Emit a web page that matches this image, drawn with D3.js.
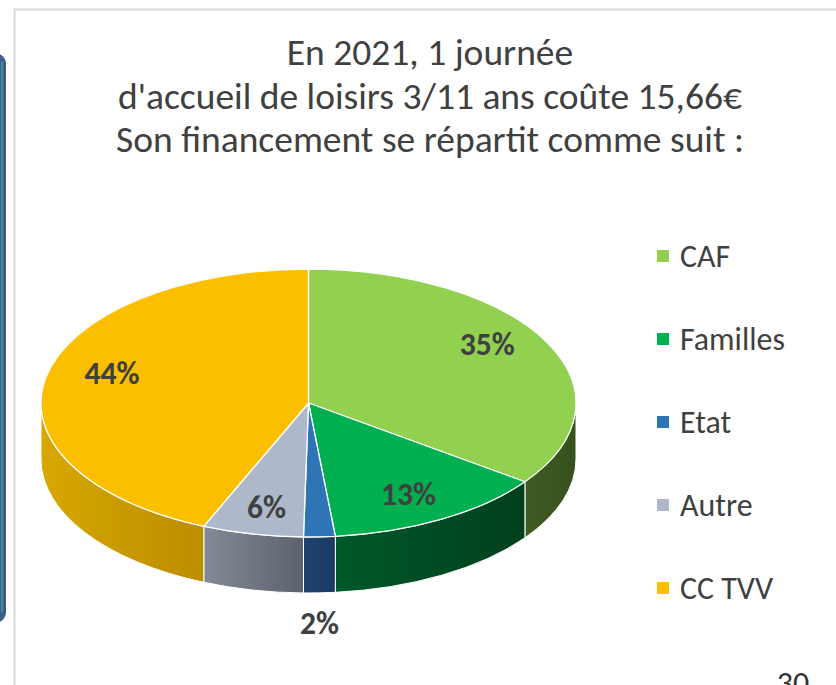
<!DOCTYPE html>
<html>
<head>
<meta charset="utf-8">
<script src="https://d3js.org/d3.v7.min.js"></script>
<style>
  body { margin: 0; background: #fff; }
  text { font-family: Carlito, Lato, "Open Sans", sans-serif; fill: #404040; }
</style>
</head>
<body>
<svg id="chart" width="836" height="685"></svg>
<script>
// data (share of one day's cost, %)
var categories = ["CAF", "Familles", "Etat", "Autre", "CC TVV"];
var shares = [35.0, 13.4, 1.9, 6.1, 43.6];
var labels = ["35%", "13%", "2%", "6%", "44%"];
var titleLines = ["En 2021, 1 journée",
                  "d'accueil de loisirs 3/11 ans coûte 15,66€",
                  "Son financement se répartit comme suit :"];

var topColors  = ["#92d050", "#00b050", "#2e75b6", "#adb9ca", "#fcbf00"];
var sideLight  = ["#3f5b22", "#00582a", "#1f4470", "#838a97", "#d8a700"];
var sideDark   = ["#37501d", "#003f1d", "#1a3a60", "#5b626d", "#bb8d00"];

var svg = d3.select("#chart");
var defs = svg.append("defs");

// slide decorations: blue bar on the left, chart frame
svg.append("rect")
    .attr("x", -20).attr("y", 53).attr("width", 26).attr("height", 570)
    .attr("rx", 11)
    .attr("fill", "#3b5e8a");
svg.append("line")
    .attr("x1", 2).attr("x2", 2).attr("y1", 62).attr("y2", 612)
    .attr("stroke", "#4c9c92").attr("stroke-width", 1.5);
svg.append("path")
    .attr("d", "M14.5,686 L14.5,9.5 L840,9.5")
    .attr("fill", "none").attr("stroke", "#d9d9d9").attr("stroke-width", 2);

// title
var title = svg.append("g").attr("class", "title");
var tl = title.selectAll("text").data(titleLines).enter().append("text")
    .attr("x", 430)
    .attr("y", function(d, i) { return 65 + i * 43.5; })
    .attr("text-anchor", "middle")
    .style("font-size", "100px")
    .text(function(d) { return d; });
var tSize = 100 * 624 / tl.nodes()[1].getComputedTextLength();
tl.style("font-size", tSize + "px");

// pie geometry
var cx = 308.5, cy = 403, rx = 267.5, ry = 134, depth = 56;
var x = d3.scaleLinear().domain([-1, 1]).range([cx - rx, cx + rx]);
var y = d3.scaleLinear().domain([-1, 1]).range([cy - ry, cy + ry]);
var color = d3.scaleOrdinal().domain(categories).range(topColors);

var pie = d3.pie().sort(null).value(function(d) { return d; });
var arcs = pie(shares);

function pt(a, dy) { return [x(Math.sin(a)), y(-Math.cos(a)) + (dy || 0)]; }
function arcTo(a0, a1, sweep, dy) {
  var p = pt(a1, dy), large = Math.abs(a1 - a0) > Math.PI ? 1 : 0;
  return "A" + rx + "," + ry + " 0 " + large + "," + sweep + " " + p[0] + "," + p[1];
}

// side gradients
categories.forEach(function(c, i) {
  var g = defs.append("linearGradient").attr("id", "side" + i)
      .attr("x1", 0).attr("x2", 1).attr("y1", 0).attr("y2", 0);
  g.append("stop").attr("offset", "0%").attr("stop-color", sideLight[i]);
  g.append("stop").attr("offset", "100%").attr("stop-color", sideDark[i]);
});

// side walls (front half only)
var sides = svg.append("g");
arcs.forEach(function(d, i) {
  var a0 = Math.max(d.startAngle, Math.PI / 2), a1 = Math.min(d.endAngle, 3 * Math.PI / 2);
  if (a1 <= a0) return;
  var p0 = pt(a0), p1b = pt(a1, depth);
  sides.append("path")
      .attr("d", "M" + p0 + arcTo(a0, a1, 1) + "L" + p1b + arcTo(a1, a0, 0, depth) + "Z")
      .attr("fill", "url(#side" + i + ")")
      .attr("stroke", "#fff").attr("stroke-width", 1);
});

// top faces
svg.append("g").selectAll("path").data(arcs).enter().append("path")
    .attr("d", function(d) {
      return "M" + cx + "," + cy + "L" + pt(d.startAngle) + arcTo(d.startAngle, d.endAngle, 1) + "Z";
    })
    .attr("fill", function(d, i) { return color(categories[i]); })
    .attr("stroke", "#fff").attr("stroke-width", 1.3)
    .attr("stroke-linejoin", "round");

// data labels
var lab = svg.append("g").selectAll("text").data(arcs).enter().append("text")
    .attr("text-anchor", "middle")
    .attr("dy", "0.36em")
    .style("font-weight", "bold")
    .style("font-size", "100px")
    .attr("x", function(d) {
      var m = (d.startAngle + d.endAngle) / 2;
      var f = d.value < 3 ? 1.0 : 0.75;
      return cx + (x(Math.sin(m)) - cx) * f;
    })
    .attr("y", function(d) {
      var m = (d.startAngle + d.endAngle) / 2;
      if (d.value < 3) return y(-Math.cos(m)) + depth + 30;
      return cy + (y(-Math.cos(m)) - cy) * 0.85 - 8;
    })
    .text(function(d, i) { return labels[i]; });
var lSize = 100 * 55 / lab.nodes()[4].getComputedTextLength();
lab.style("font-size", lSize + "px");

// legend
var ly = d3.scalePoint().domain(categories).range([256, 588]);
var leg = svg.append("g").selectAll("g").data(categories).enter().append("g")
    .attr("transform", function(d) { return "translate(657," + ly(d) + ")"; });
leg.append("rect")
    .attr("x", 0).attr("y", -6).attr("width", 12).attr("height", 12)
    .attr("fill", function(d) { return color(d); });
var lt = leg.append("text")
    .attr("x", 23).attr("dy", "0.35em")
    .style("font-size", "100px")
    .text(function(d) { return d; });
var gSize = 100 * 105 / lt.nodes()[1].getComputedTextLength();
lt.style("font-size", gSize + "px");

// slide page number, cut by the bottom edge
svg.append("text")
    .attr("x", 793).attr("y", 694)
    .attr("text-anchor", "middle")
    .style("font-size", gSize + "px")
    .style("fill", "#333")
    .text("30");
</script>
</body>
</html>
